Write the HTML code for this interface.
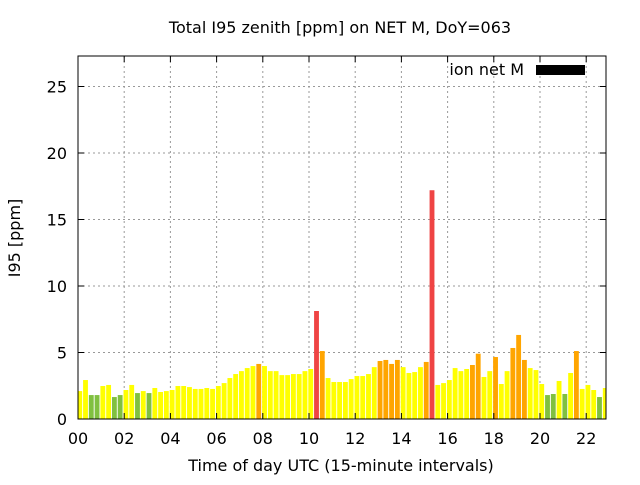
<!DOCTYPE html>
<html><head><meta charset="utf-8"><style>
body{margin:0;background:#fff}
svg text{font-family:"DejaVu Sans","Liberation Sans",sans-serif;font-size:16px;fill:#000}
</style></head><body>
<svg id="chart" width="640" height="480" xmlns="http://www.w3.org/2000/svg">
<rect width="640" height="480" fill="#fff"/>
<g id="grid"></g>
<g id="bars"></g>
<g id="axes"></g>
<text x="340" y="33" text-anchor="middle">Total I95 zenith [ppm] on NET M, DoY=063</text>
<text x="341" y="471" text-anchor="middle">Time of day UTC (15-minute intervals)</text>
<text transform="translate(20,238) rotate(-90)" text-anchor="middle">I95 [ppm]</text>
<text x="524" y="75" text-anchor="end">ion net M</text>
<rect x="536" y="65" width="49" height="10" fill="#000"/>
</svg>
<script>
const values=[2.1,2.93,1.8,1.8,2.48,2.56,1.65,1.8,2.18,2.56,1.95,2.1,1.95,2.33,2.03,2.1,2.18,2.48,2.48,2.4,2.26,2.26,2.33,2.26,2.48,2.7,3.08,3.38,3.6,3.83,3.98,4.14,3.98,3.6,3.6,3.3,3.3,3.38,3.38,3.6,3.76,8.12,5.11,3.08,2.78,2.78,2.78,3.0,3.23,3.23,3.38,3.9,4.36,4.44,4.14,4.44,3.9,3.46,3.53,3.9,4.29,17.2,2.56,2.7,2.93,3.83,3.6,3.76,4.06,4.91,3.16,3.6,4.66,2.63,3.6,5.34,6.32,4.44,3.83,3.68,2.63,1.8,1.88,2.86,1.88,3.46,5.11,2.26,2.56,2.18,1.65,2.33];
const xTicks=["00","02","04","06","08","10","12","14","16","18","20","22"];
const yTicks=[0,5,10,15,20,25];
const X0=78,X1=606,Y0=419,Y1=56,PXH=23.1,YMAX=(419-56)/13.3;
const NS="http://www.w3.org/2000/svg";
function xs(h){return X0+h*PXH;}
function ys(v){return Y0-v/YMAX*(Y0-Y1);}
function mk(t,a,p){const e=document.createElementNS(NS,t);for(const k in a)e.setAttribute(k,a[k]);p.appendChild(e);return e;}
const grid=document.getElementById('grid'),bars=document.getElementById('bars'),axes=document.getElementById('axes');
yTicks.forEach(v=>{const y=ys(v);
 if(v>0){const g=mk('line',{x1:X0,x2:X1,y1:y,y2:y,stroke:'#999','stroke-dasharray':'2,3'},grid);
 }
 const t=mk('line',{x1:X0,x2:X0+6,y1:y,y2:y,stroke:'#000'},axes);
 const t2=mk('line',{x1:X1-6,x2:X1,y1:y,y2:y,stroke:'#000'},axes);
 const l=mk('text',{x:X0-11,y:y+6,'text-anchor':'end'},axes);l.textContent=v;
 });
xTicks.forEach((s,i)=>{const x=xs(i*2);
 if(i>0){const g=mk('line',{x1:x,x2:x,y1:Y1,y2:Y0,stroke:'#999','stroke-dasharray':'2,3'},grid);
 }
 const t=mk('line',{x1:x,x2:x,y1:Y0,y2:Y0-6,stroke:'#000'},axes);
 const t2=mk('line',{x1:x,x2:x,y1:Y1,y2:Y1+6,stroke:'#000'},axes);
 const l=mk('text',{x:x,y:Y0+25,'text-anchor':'middle'},axes);l.textContent=s;
 });
function col(v){return v<2?'#80c040':v<4?'#ffff00':v<8?'#ffa500':'#ef4444';}
const bw=PXH/4;
values.forEach((v,i)=>{const c=xs((i+0.3)/4);let x=c-bw*0.42,w=bw*0.84;
 if(x<X0){w-=X0-x;x=X0;} if(x+w>X1)w=X1-x;
 const r=mk('rect',{x:x,y:ys(v),width:w,height:Y0-ys(v),fill:col(v)},bars);
 
 });
const f=mk('rect',{x:X0,y:Y1,width:X1-X0,height:Y0-Y1,fill:'none',stroke:'#000','stroke-width':1},axes);


</script>
</body></html>
